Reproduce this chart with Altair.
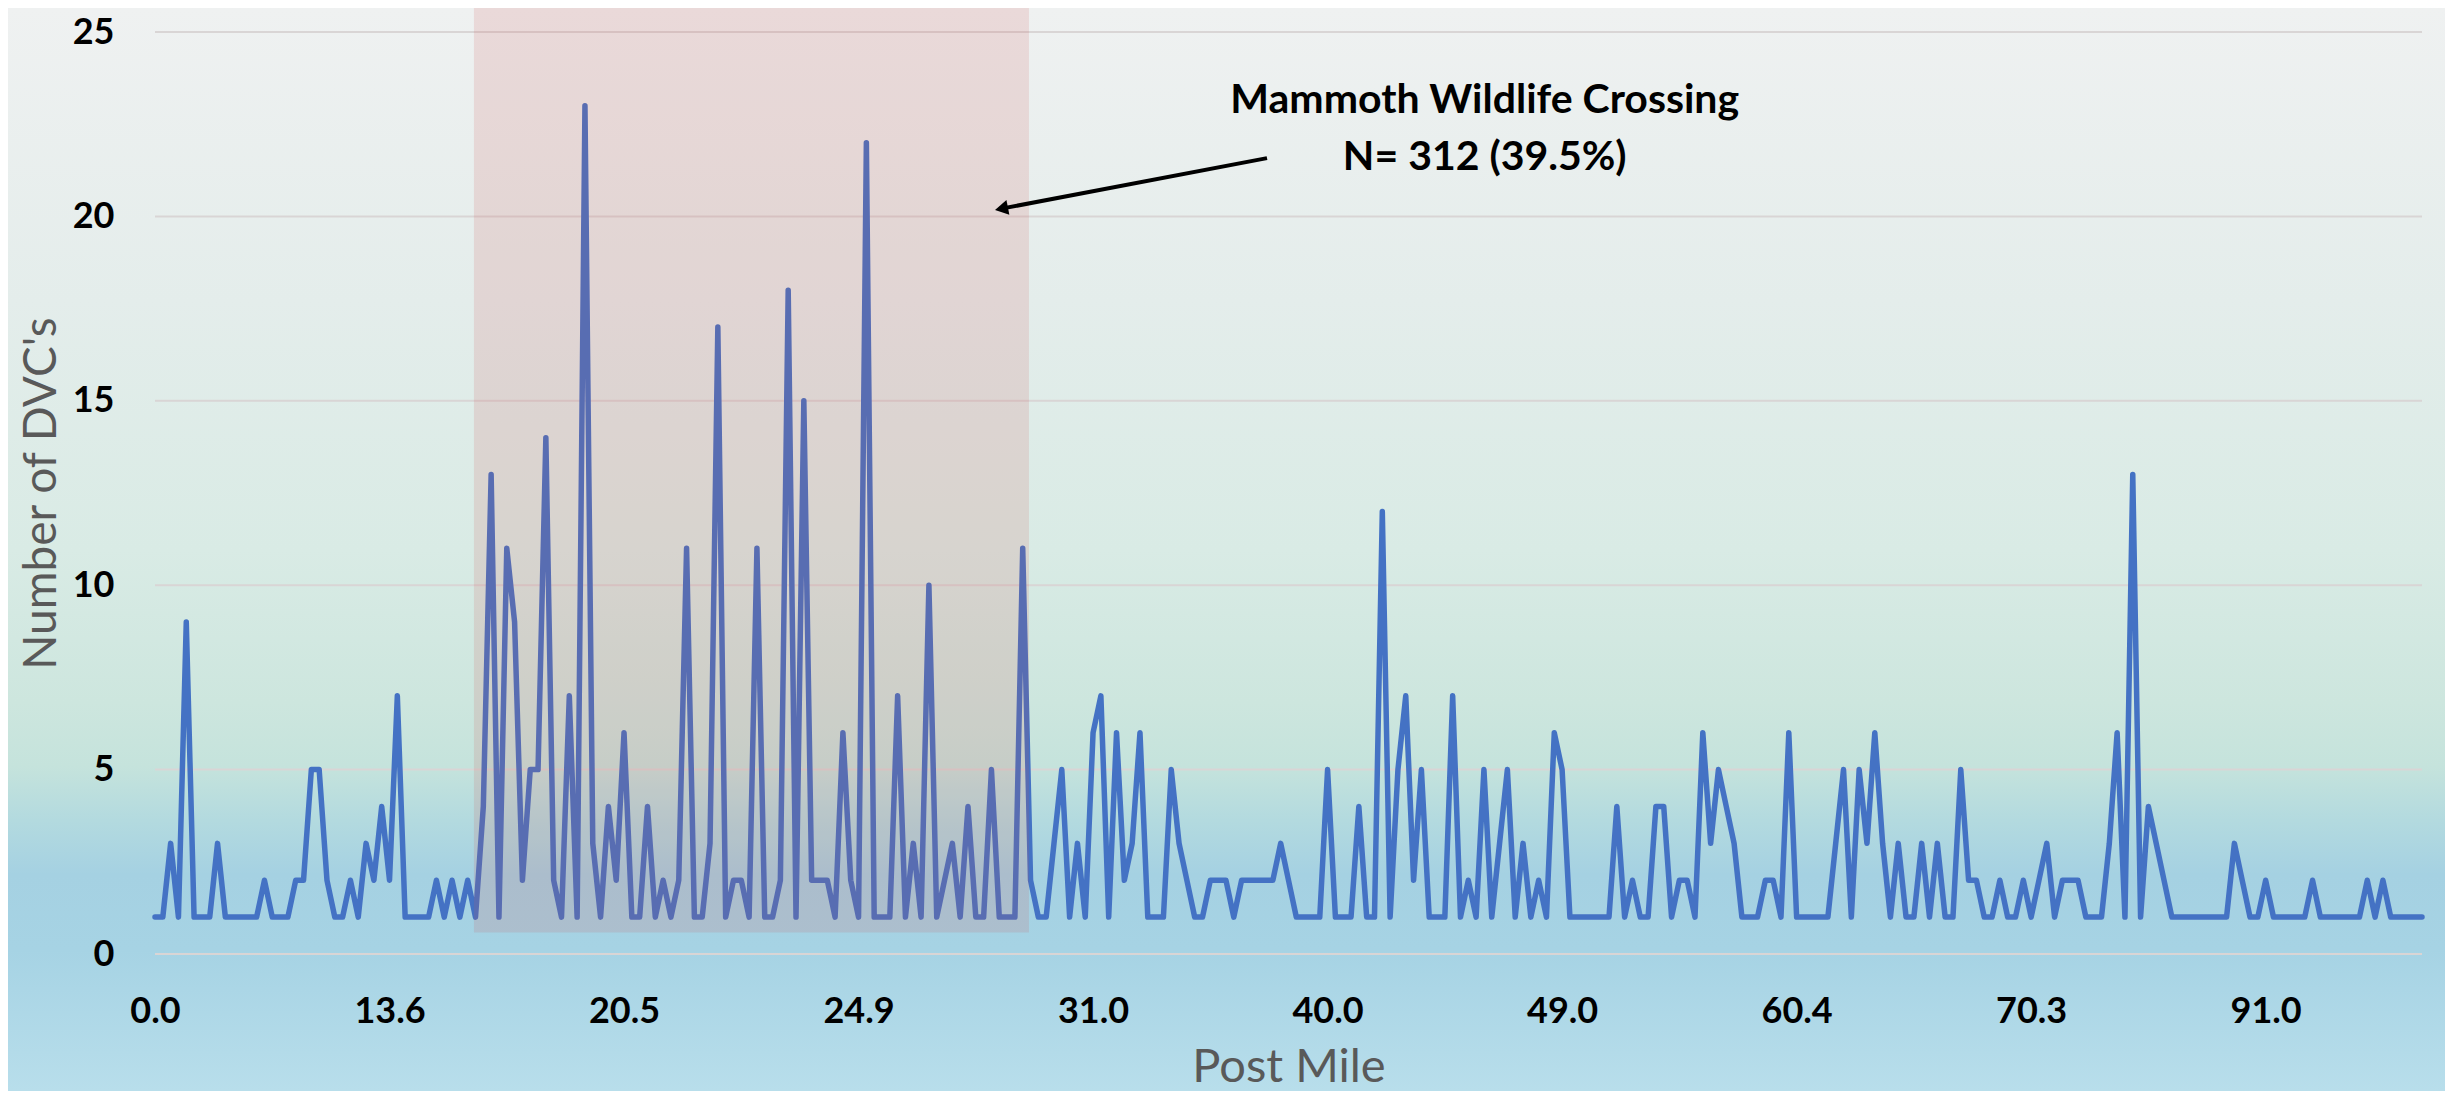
import altair as alt
import pandas as pd

# ---- data ----
counts = [
    1, 1, 3, 1, 9, 1, 1, 1, 3, 1,
    1, 1, 1, 1, 2, 1, 1, 1, 2, 2,
    5, 5, 2, 1, 1, 2, 1, 3, 2, 4,
    2, 7, 1, 1, 1, 1, 2, 1, 2, 1,
    2, 1, 4, 13, 1, 11, 9, 2, 5, 5,
    14, 2, 1, 7, 1, 23, 3, 1, 4, 2,
    6, 1, 1, 4, 1, 2, 1, 2, 11, 1,
    1, 3, 17, 1, 2, 2, 1, 11, 1, 1,
    2, 18, 1, 15, 2, 2, 2, 1, 6, 2,
    1, 22, 1, 1, 1, 7, 1, 3, 1, 10,
    1, 2, 3, 1, 4, 1, 1, 5, 1, 1,
    1, 11, 2, 1, 1, 3, 5, 1, 3, 1,
    6, 7, 1, 6, 2, 3, 6, 1, 1, 1,
    5, 3, 2, 1, 1, 2, 2, 2, 1, 2,
    2, 2, 2, 2, 3, 2, 1, 1, 1, 1,
    5, 1, 1, 1, 4, 1, 1, 12, 1, 5,
    7, 2, 5, 1, 1, 1, 7, 1, 2, 1,
    5, 1, 3, 5, 1, 3, 1, 2, 1, 6,
    5, 1, 1, 1, 1, 1, 1, 4, 1, 2,
    1, 1, 4, 4, 1, 2, 2, 1, 6, 3,
    5, 4, 3, 1, 1, 1, 2, 2, 1, 6,
    1, 1, 1, 1, 1, 3, 5, 1, 5, 3,
    6, 3, 1, 3, 1, 1, 3, 1, 3, 1,
    1, 5, 2, 2, 1, 1, 2, 1, 1, 2,
    1, 2, 3, 1, 2, 2, 2, 1, 1, 1,
    3, 6, 1, 13, 1, 4, 3, 2, 1, 1,
    1, 1, 1, 1, 1, 1, 3, 2, 1, 1,
    2, 1, 1, 1, 1, 1, 2, 1, 1, 1,
    1, 1, 1, 2, 1, 2, 1, 1, 1, 1,
    1,
]
tick_labels = ["0.0", "13.6", "20.5", "24.9", "31.0", "40.0", "49.0", "60.4", "70.3", "91.0"]
tick_step = 30
y_ticks = [0, 5, 10, 15, 20, 25]

crossing_start = 40.8
crossing_end = 111.8
crossing_floor = 0.58

annotation_lines = ["Mammoth Wildlife Crossing", "N= 312 (39.5%)"]
annotation_x = [170.1, 170.1]
annotation_y = [22.80, 21.26]
arrow_tail = [142.25, 21.58]
arrow_head = [108.28, 20.21]

# ---- sizes / styles ----
W, H = 2267, 922
TOP, LEFT = 24, 147          # room above / left of the plot inside the figure
FIG_W, FIG_H = 2437, 1083    # whole figure (page minus its 8px margin)
FONT = "Lato"
LINE_COLOR = "#4472c4"
TITLE_COLOR = "#595959"

df = pd.DataFrame({"idx": list(range(len(counts))), "count": counts})
x_max = len(counts) - 1
x_scale = alt.Scale(domain=[0, x_max], nice=False, zero=False)
y_scale = alt.Scale(domain=[0, 25], nice=False)

label_array = "[" + ",".join("'%s'" % t for t in tick_labels) + "]"

x_axis = alt.Axis(
    values=list(range(0, tick_step * len(tick_labels), tick_step)),
    labelExpr=label_array + "[round(datum.value/%d)]" % tick_step,
    labelFont=FONT, labelFontSize=36, labelFontWeight="bold", labelColor="#000000",
    labelBaseline="alphabetic", labelPadding=68, labelFlush=False,
    labelOverlap=False, labelBound=False,
    domain=False, ticks=False, tickSize=0, grid=False,
    title="Post Mile", titleFont=FONT, titleFontSize=47, titleFontWeight="normal",
    titleColor=TITLE_COLOR, titleX=W / 2, titleY=FIG_H - TOP - H, titleBaseline="bottom",
    titleAlign="center", zindex=1,
)
y_axis = alt.Axis(
    values=y_ticks,
    labelFont=FONT, labelFontSize=36, labelFontWeight="bold", labelColor="#000000",
    labelPadding=41, labelBaseline="middle", labelFlush=False, labelOverlap=False,
    domain=False, ticks=False, tickSize=0, grid=False,
    title="Number of DVC's", titleFont=FONT, titleFontSize=46, titleFontWeight="normal",
    titleColor=TITLE_COLOR, titleAngle=270, titleX=-100, titleY=H / 2,
    titleBaseline="alphabetic", titleAlign="center", zindex=1,
)

gradient = alt.LinearGradient(
    gradient="linear",
    x1=0, x2=0, y1=0, y2=1,
    stops=[
        alt.GradientStop(color="#eff1f1", offset=0.0),
        alt.GradientStop(color="#e4edeb", offset=0.27),
        alt.GradientStop(color="#d9ebe5", offset=0.50),
        alt.GradientStop(color="#cde6de", offset=0.64),
        alt.GradientStop(color="#c5e3dc", offset=0.70),
        alt.GradientStop(color="#b3dadf", offset=0.75),
        alt.GradientStop(color="#a5d1e2", offset=0.80),
        alt.GradientStop(color="#a6d3e4", offset=0.87),
        alt.GradientStop(color="#b8deeb", offset=1.0),
    ],
)

one = pd.DataFrame({"a": [0]})

background = alt.Chart(one).mark_rect(fill=gradient, strokeWidth=0).encode(
    x=alt.value(-LEFT), x2=alt.value(FIG_W - LEFT),
    y=alt.value(-TOP), y2=alt.value(FIG_H - TOP),
)

grid = alt.Chart(pd.DataFrame({"v": y_ticks})).mark_rule(
    color="#d9d5d5", strokeWidth=2
).encode(y=alt.Y("v:Q", scale=y_scale, axis=y_axis))

line = alt.Chart(df).mark_line(
    color=LINE_COLOR, strokeWidth=5.5, strokeJoin="round", strokeCap="round"
).encode(
    x=alt.X("idx:Q", scale=x_scale, axis=x_axis),
    y=alt.Y("count:Q", scale=y_scale, axis=y_axis),
)

region = alt.Chart(pd.DataFrame({"x0": [crossing_start], "x1": [crossing_end], "y0": [crossing_floor]})).mark_rect(
    fill="#d05050", opacity=0.15, strokeWidth=0
).encode(
    x=alt.X("x0:Q", scale=x_scale, axis=x_axis),
    x2="x1:Q",
    y=alt.Y("y0:Q", scale=y_scale, axis=y_axis),
    y2=alt.value(-TOP),
)

arrow_df = pd.DataFrame({
    "x0": [arrow_tail[0]], "y0": [arrow_tail[1]],
    "x1": [arrow_head[0]], "y1": [arrow_head[1]],
})
arrow_line = alt.Chart(arrow_df).mark_rule(color="#000000", strokeWidth=4).encode(
    x=alt.X("x0:Q", scale=x_scale, axis=x_axis), y=alt.Y("y0:Q", scale=y_scale, axis=y_axis),
    x2="x1:Q", y2="y1:Q",
)
arrow_tip = alt.Chart(arrow_df).mark_point(
    shape="triangle-left", filled=True, color="#000000", size=230, angle=349, opacity=1
).encode(
    x=alt.X("x1:Q", scale=x_scale, axis=x_axis), y=alt.Y("y1:Q", scale=y_scale, axis=y_axis),
)

text_df = pd.DataFrame({"label": annotation_lines, "x": annotation_x, "y": annotation_y})
annotation = alt.Chart(text_df).mark_text(
    font=FONT, fontSize=41, fontWeight="bold", color="#000000",
    align="center", baseline="alphabetic",
).encode(
    x=alt.X("x:Q", scale=x_scale, axis=x_axis), y=alt.Y("y:Q", scale=y_scale, axis=y_axis),
    text="label:N",
)

chart = alt.layer(
    background, grid, line, region, arrow_line, arrow_tip, annotation
).properties(
    width=W, height=H, padding=0, background="#ffffff"
).configure_view(stroke=None)

chart.save("out.html", embed_options={"renderer": "svg", "actions": False})
